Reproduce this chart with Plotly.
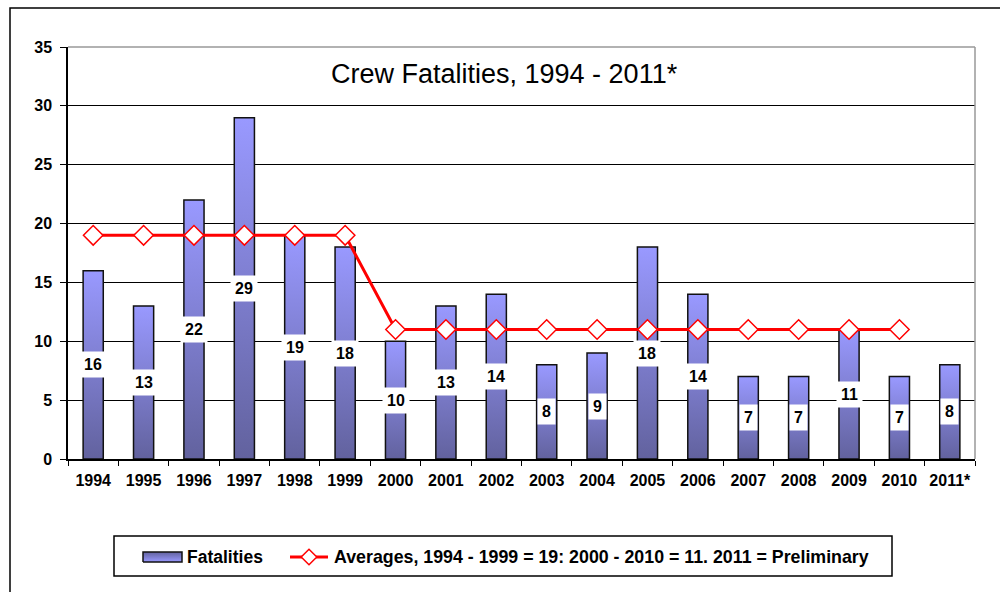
import plotly.graph_objects as go

# Data
years = ["1994", "1995", "1996", "1997", "1998", "1999", "2000", "2001", "2002",
         "2003", "2004", "2005", "2006", "2007", "2008", "2009", "2010", "2011*"]
fatalities = [16, 13, 22, 29, 19, 18, 10, 13, 14, 8, 9, 18, 14, 7, 7, 11, 7, 8]
averages = [19, 19, 19, 19, 19, 19, 11, 11, 11, 11, 11, 11, 11, 11, 11, 11, 11, None]
y_ticks = [0, 5, 10, 15, 20, 25, 30, 35]

title_text = "Crew Fatalities, 1994 - 2011*"
bar_name = "Fatalities"
line_name = "Averages, 1994 - 1999 = 19: 2000 - 2010 = 11. 2011 = Preliminary"

# Style
FONT = "Liberation Sans, Arial, sans-serif"
BAR_LIGHT = "#9999FF"
BAR_DARK = "#62629E"
BAR_EDGE = "#111111"
RED = "#FF0000"
HALF_W = 0.2

W, H = 1000, 592
PLOT_L, PLOT_R, PLOT_T, PLOT_B = 68, 975, 47, 459

gradient = dict(type="vertical", colorscale=[[0, BAR_DARK], [1, BAR_LIGHT]])

fig = go.Figure()

# Bars drawn as filled outlines so each can carry its own vertical gradient
for i, v in enumerate(fatalities):
    fig.add_trace(go.Scatter(
        x=[i - HALF_W, i - HALF_W, i + HALF_W, i + HALF_W, i - HALF_W],
        y=[0, v, v, 0, 0],
        mode="lines", fill="toself", fillgradient=gradient,
        line=dict(color=BAR_EDGE, width=1.5),
        showlegend=False, hoverinfo="skip",
        xaxis="x", yaxis="y",
    ))

# Average line
fig.add_trace(go.Scatter(
    x=list(range(len(years))), y=averages,
    mode="lines+markers",
    line=dict(color=RED, width=3),
    marker=dict(symbol="diamond", size=15, color="white",
                line=dict(color=RED, width=1.5)),
    showlegend=False, xaxis="x", yaxis="y",
))

# Legend keys (on a full-figure pixel overlay)
LG_Y = 557
fig.add_trace(go.Scatter(
    x=[143, 143, 182, 182, 143], y=[562, 552, 552, 562, 562],
    mode="lines", fill="toself",
    fillgradient=dict(type="vertical", colorscale=[[0, BAR_LIGHT], [1, BAR_DARK]]),
    line=dict(color=BAR_EDGE, width=1.5),
    showlegend=False, hoverinfo="skip", xaxis="x2", yaxis="y2",
))
fig.add_trace(go.Scatter(
    x=[290, 328], y=[LG_Y, LG_Y], mode="lines",
    line=dict(color=RED, width=3),
    showlegend=False, hoverinfo="skip", xaxis="x2", yaxis="y2",
))
fig.add_trace(go.Scatter(
    x=[309], y=[LG_Y], mode="markers",
    marker=dict(symbol="diamond", size=12, color="white",
                line=dict(color=RED, width=1.5)),
    showlegend=False, hoverinfo="skip", xaxis="x2", yaxis="y2",
))

annotations = []
# Value labels in white boxes at mid-height of each bar
for i, v in enumerate(fatalities):
    annotations.append(dict(
        x=i, y=v / 2, xref="x", yref="y", text=str(v), showarrow=False,
        font=dict(family=FONT, size=16, color="black", weight="bold"),
        bgcolor="white", borderpad=4,
    ))

annotations.append(dict(
    x=504, y=74, xref="x2", yref="y2", text=title_text, showarrow=False,
    font=dict(family=FONT, size=27, color="black"),
))
annotations.append(dict(
    x=185, y=LG_Y, xref="x2", yref="y2", text=bar_name, showarrow=False,
    xanchor="left", font=dict(family=FONT, size=17.5, color="black", weight="bold"),
))
annotations.append(dict(
    x=332, y=LG_Y, xref="x2", yref="y2", text=line_name, showarrow=False,
    xanchor="left", font=dict(family=FONT, size=17.8, color="black", weight="bold"),
))

shapes = [
    # outer frame
    dict(type="rect", xref="x2", yref="y2", x0=10, x1=1010, y0=8, y1=600,
         line=dict(color="black", width=1.5), layer="above"),
    # legend frame
    dict(type="rect", xref="x2", yref="y2", x0=114, x1=892, y0=536, y1=576,
         line=dict(color="black", width=1.5), layer="above"),
    # grey top/right edges of the plot area
    dict(type="line", xref="x domain", yref="y domain", x0=0, x1=1, y0=1, y1=1,
         line=dict(color="#999999", width=1.5), layer="above"),
    dict(type="line", xref="x domain", yref="y domain", x0=1, x1=1, y0=0, y1=1,
         line=dict(color="#999999", width=1.5), layer="above"),
]

fig.update_layout(
    width=W, height=H,
    margin=dict(l=0, r=0, t=0, b=0, pad=0, autoexpand=False),
    paper_bgcolor="white", plot_bgcolor="rgba(0,0,0,0)",
    showlegend=False,
    font=dict(family=FONT, color="black"),
    xaxis=dict(
        domain=[PLOT_L / W, PLOT_R / W],
        range=[-0.5, len(years) - 0.5],
        tickmode="array", tickvals=list(range(len(years))), ticktext=years,
        ticks="", showgrid=False, zeroline=False, automargin=False,
        showline=True, linecolor="black", linewidth=1.5,
        ticklabelstandoff=6,
        tickfont=dict(family=FONT, size=16, color="black", weight="bold"),
        minor=dict(tickmode="array",
                   tickvals=[k - 0.5 for k in range(len(years) + 1)],
                   ticks="outside", ticklen=5, tickcolor="black", tickwidth=1,
                   showgrid=False),
        fixedrange=True,
    ),
    yaxis=dict(
        domain=[(H - PLOT_B) / H, (H - PLOT_T) / H],
        range=[0, 35], tickmode="array", tickvals=y_ticks,
        ticks="outside", ticklen=6, tickcolor="black", tickwidth=1,
        showgrid=True, gridcolor="black", gridwidth=1,
        zeroline=False, showline=True, linecolor="black", linewidth=1.5,
        automargin=False, ticklabelstandoff=5,
        tickfont=dict(family=FONT, size=16, color="black", weight="bold"),
        fixedrange=True,
    ),
    xaxis2=dict(domain=[0, 1], range=[0, W], visible=False, anchor="y2",
                fixedrange=True, automargin=False),
    yaxis2=dict(domain=[0, 1], range=[H, 0], visible=False, anchor="x2",
                fixedrange=True, automargin=False),
    annotations=annotations,
    shapes=shapes,
)

fig.write_html("out.html")
